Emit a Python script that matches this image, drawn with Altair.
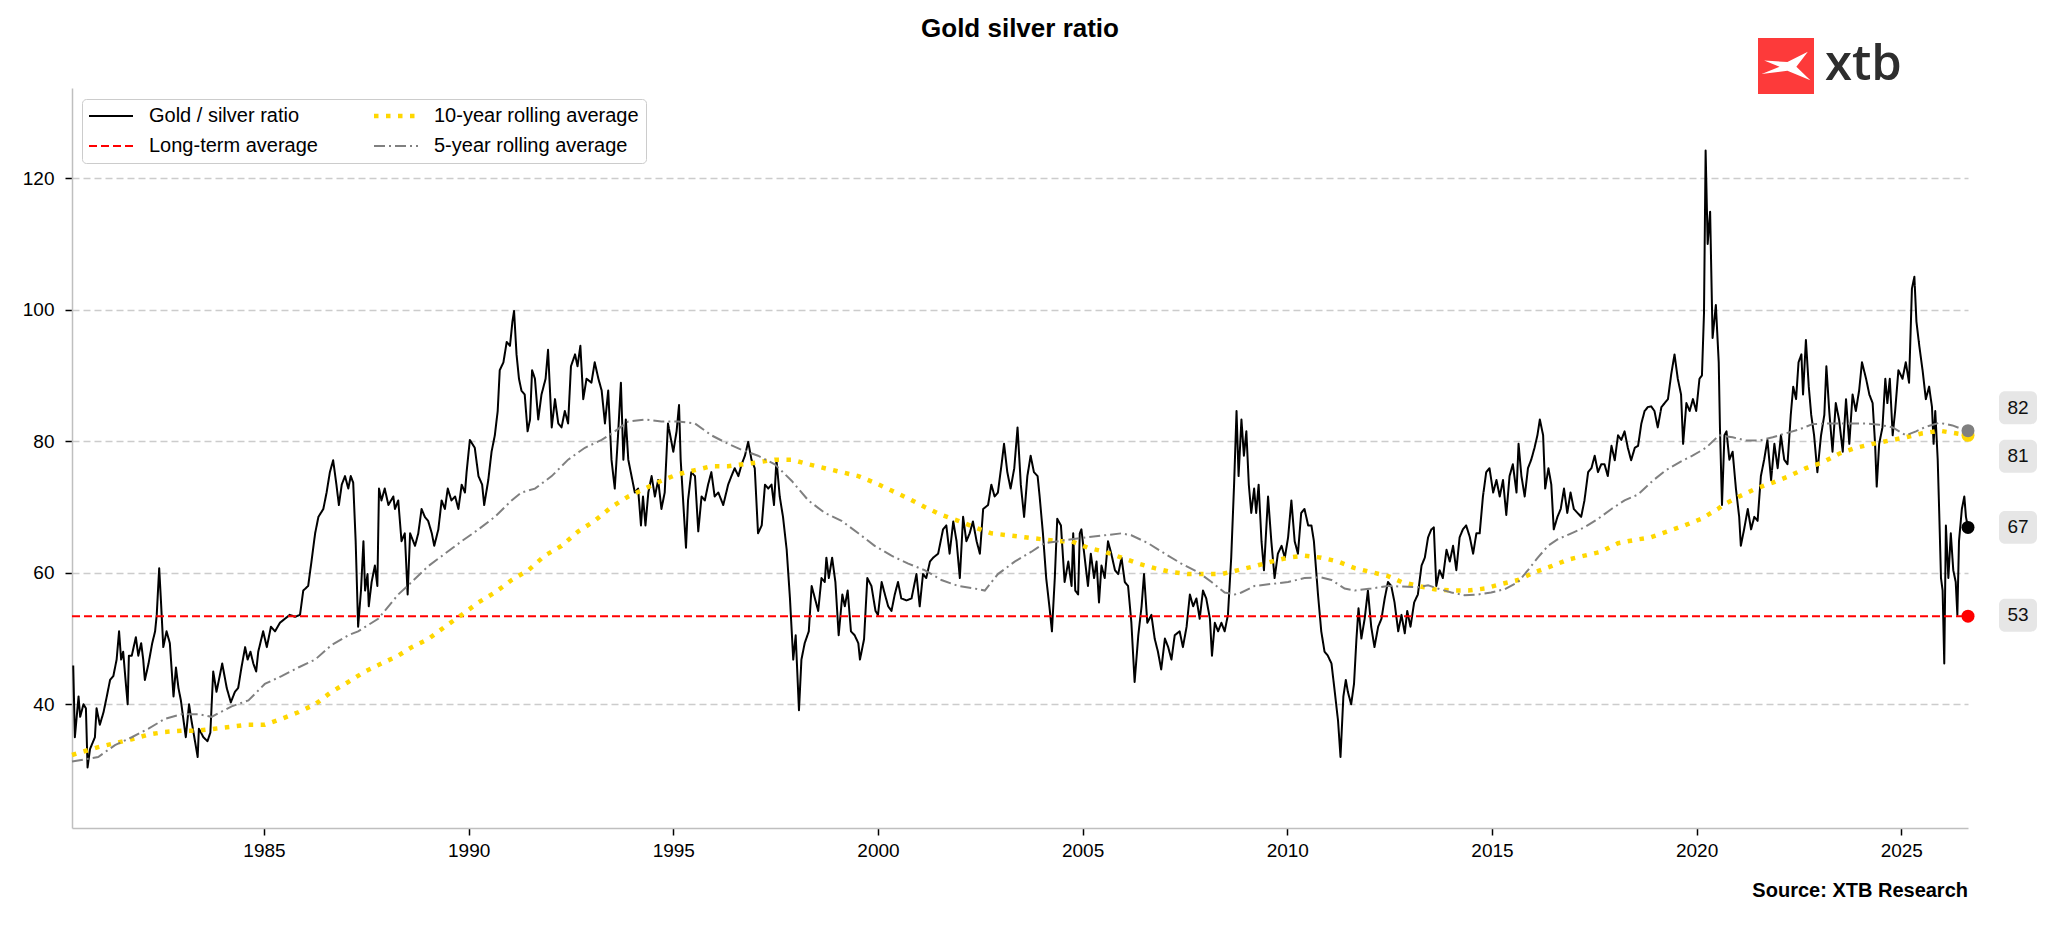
import altair as alt
import pandas as pd

TITLE = "Gold silver ratio"
SOURCE = "Source: XTB Research"
S_RATIO = "Gold / silver ratio"
S_MA10 = "10-year rolling average"
S_LT = "Long-term average"
S_MA5 = "5-year rolling average"

# Gold / silver ratio, (decimal year, ratio)
ratio_1980s = [
    (1980.34, 45.9), (1980.38, 35.0), (1980.47, 41.2), (1980.51, 38.1), (1980.59, 40.0),
    (1980.65, 39.4), (1980.69, 30.4), (1980.75, 33.2), (1980.83, 34.4), (1980.87, 35.0),
    (1980.91, 39.4), (1980.99, 36.9), (1981.08, 38.8), (1981.16, 41.2), (1981.24, 43.7),
    (1981.32, 44.3), (1981.40, 46.8), (1981.46, 51.1), (1981.51, 46.8), (1981.56, 48.0),
    (1981.61, 44.3), (1981.67, 40.0), (1981.70, 47.4), (1981.77, 47.4), (1981.87, 50.2),
    (1981.93, 47.4), (1982.00, 49.3), (1982.05, 46.8), (1982.09, 43.7), (1982.18, 46.2),
    (1982.27, 49.3), (1982.34, 51.1), (1982.38, 53.6), (1982.44, 60.7), (1982.48, 56.1),
    (1982.54, 48.7), (1982.62, 51.1), (1982.70, 49.3), (1982.79, 41.2), (1982.85, 45.6),
    (1982.91, 42.5), (1982.97, 40.6), (1983.09, 35.0), (1983.17, 40.0), (1983.23, 37.5),
    (1983.38, 32.0), (1983.41, 36.3), (1983.52, 35.0), (1983.62, 34.4), (1983.69, 35.7),
    (1983.76, 45.0), (1983.84, 41.9), (1983.98, 46.2), (1984.09, 42.5), (1984.19, 40.3),
    (1984.29, 41.9), (1984.37, 42.5), (1984.45, 45.6), (1984.54, 48.7), (1984.60, 46.8),
    (1984.67, 48.0), (1984.74, 46.2), (1984.81, 45.0), (1984.86, 48.0), (1984.98, 51.1),
    (1985.07, 48.7), (1985.17, 51.8), (1985.27, 51.1), (1985.39, 52.4), (1985.51, 53.0),
    (1985.63, 53.6), (1985.76, 53.3), (1985.88, 53.6), (1985.96, 57.3), (1986.08, 58.0),
    (1986.16, 61.7), (1986.25, 66.0), (1986.33, 68.5), (1986.45, 69.7), (1986.53, 72.2),
    (1986.61, 75.3), (1986.69, 77.1), (1986.77, 73.4), (1986.83, 70.3), (1986.90, 73.4),
    (1986.98, 74.7), (1987.06, 72.8), (1987.12, 74.7), (1987.18, 73.7), (1987.24, 64.8),
    (1987.30, 51.8), (1987.37, 57.3), (1987.43, 64.8), (1987.47, 57.3), (1987.53, 59.8),
    (1987.56, 54.9), (1987.63, 58.6), (1987.71, 61.1), (1987.77, 58.0), (1987.81, 72.8),
    (1987.87, 71.0), (1987.95, 72.8), (1988.04, 70.3), (1988.16, 71.6), (1988.20, 69.7),
    (1988.28, 71.0), (1988.36, 64.8), (1988.44, 66.0), (1988.51, 56.7), (1988.57, 66.0),
    (1988.69, 64.1), (1988.77, 66.0), (1988.85, 69.7), (1988.93, 68.5), (1989.01, 67.9),
    (1989.10, 66.0), (1989.16, 64.1), (1989.26, 66.6), (1989.34, 71.0), (1989.42, 69.7),
    (1989.49, 72.8), (1989.58, 71.0), (1989.67, 71.6), (1989.75, 69.7), (1989.83, 73.4),
    (1989.91, 72.2), (1989.95, 75.3),
]
ratio_1990s = [
    (1990.03, 80.2), (1990.15, 79.0), (1990.24, 74.7), (1990.33, 73.4), (1990.38, 70.3),
    (1990.48, 74.1), (1990.56, 78.4), (1990.64, 80.9), (1990.71, 84.6), (1990.76, 90.8),
    (1990.85, 92.0), (1990.93, 95.1), (1991.01, 94.5), (1991.07, 98.2), (1991.11, 99.8),
    (1991.17, 93.2), (1991.23, 89.5), (1991.29, 87.7), (1991.37, 87.1), (1991.44, 81.5),
    (1991.50, 83.3), (1991.55, 90.8), (1991.62, 89.5), (1991.70, 83.3), (1991.78, 87.1),
    (1991.88, 89.5), (1991.94, 93.9), (1992.03, 82.1), (1992.11, 86.4), (1992.19, 82.7),
    (1992.27, 82.1), (1992.35, 84.6), (1992.43, 82.7), (1992.50, 91.4), (1992.60, 93.2),
    (1992.66, 91.4), (1992.73, 94.5), (1992.80, 86.4), (1992.88, 89.5), (1993.00, 88.9),
    (1993.08, 92.0), (1993.17, 89.5), (1993.25, 87.7), (1993.33, 82.7), (1993.41, 87.7),
    (1993.49, 77.2), (1993.57, 72.8), (1993.65, 80.9), (1993.72, 88.9), (1993.78, 77.2),
    (1993.84, 83.3), (1993.90, 77.2), (1993.98, 74.7), (1994.06, 72.2), (1994.14, 72.8),
    (1994.21, 67.2), (1994.26, 71.6), (1994.32, 67.2), (1994.39, 72.2), (1994.47, 74.7),
    (1994.55, 71.6), (1994.63, 74.1), (1994.71, 69.7), (1994.79, 72.2), (1994.87, 82.7),
    (1995.00, 78.4), (1995.08, 81.5), (1995.14, 85.5), (1995.18, 77.2), (1995.24, 71.0),
    (1995.31, 63.8), (1995.36, 71.0), (1995.44, 75.3), (1995.53, 74.7), (1995.61, 66.3),
    (1995.69, 71.6), (1995.77, 71.0), (1995.85, 73.4), (1995.93, 75.3), (1996.01, 71.6),
    (1996.10, 72.2), (1996.22, 70.3), (1996.34, 73.4), (1996.42, 74.7), (1996.50, 75.9),
    (1996.59, 74.7), (1996.67, 76.5), (1996.75, 77.8), (1996.83, 79.9), (1996.91, 77.2),
    (1996.99, 75.9), (1997.07, 66.0), (1997.16, 67.2), (1997.24, 73.4), (1997.32, 72.8),
    (1997.40, 73.4), (1997.46, 70.3), (1997.52, 77.2), (1997.60, 71.6), (1997.68, 68.5),
    (1997.77, 63.5), (1997.85, 56.1), (1997.93, 46.8), (1997.99, 50.5), (1998.07, 39.1),
    (1998.13, 46.8), (1998.21, 49.3), (1998.31, 51.1), (1998.38, 58.0), (1998.46, 56.1),
    (1998.54, 54.2), (1998.62, 59.2), (1998.70, 58.6), (1998.74, 62.3), (1998.80, 59.2),
    (1998.88, 62.3), (1998.96, 58.6), (1999.04, 50.5), (1999.13, 56.7), (1999.19, 54.9),
    (1999.26, 57.3), (1999.34, 51.1), (1999.43, 50.5), (1999.52, 49.3), (1999.56, 46.8),
    (1999.66, 49.9), (1999.74, 59.2), (1999.84, 58.0), (1999.94, 54.2),
]
ratio_2000s = [
    (2000.00, 53.6), (2000.09, 58.6), (2000.17, 56.7), (2000.25, 54.9), (2000.33, 54.2),
    (2000.41, 56.7), (2000.49, 58.6), (2000.57, 56.1), (2000.70, 55.8), (2000.82, 56.1),
    (2000.94, 59.8), (2001.02, 54.9), (2001.10, 59.8), (2001.18, 59.2), (2001.27, 61.7),
    (2001.35, 62.3), (2001.47, 62.9), (2001.59, 66.6), (2001.67, 67.2), (2001.75, 62.9),
    (2001.84, 67.8), (2001.92, 64.8), (2002.00, 59.2), (2002.08, 68.5), (2002.16, 64.8),
    (2002.24, 66.0), (2002.32, 67.8), (2002.41, 64.8), (2002.49, 62.9), (2002.57, 69.7),
    (2002.69, 70.3), (2002.77, 73.4), (2002.85, 71.6), (2002.93, 72.2), (2003.02, 76.5),
    (2003.08, 79.6), (2003.16, 75.3), (2003.24, 72.8), (2003.33, 75.9), (2003.41, 82.1),
    (2003.49, 73.4), (2003.57, 68.5), (2003.65, 74.7), (2003.73, 77.8), (2003.81, 75.3),
    (2003.90, 74.7), (2003.95, 71.6), (2004.03, 66.0), (2004.11, 59.2), (2004.20, 54.2),
    (2004.25, 51.1), (2004.32, 59.2), (2004.38, 68.2), (2004.47, 67.2), (2004.56, 58.6),
    (2004.65, 61.7), (2004.73, 58.0), (2004.77, 66.0), (2004.82, 57.3), (2004.89, 56.7),
    (2004.93, 66.0), (2004.97, 66.6), (2005.05, 62.3), (2005.13, 58.0), (2005.20, 62.9),
    (2005.28, 59.2), (2005.34, 61.7), (2005.40, 55.5), (2005.46, 61.1), (2005.54, 59.2),
    (2005.62, 64.8), (2005.70, 62.9), (2005.79, 60.4), (2005.87, 59.8), (2005.95, 62.3),
    (2006.03, 58.6), (2006.11, 58.0), (2006.19, 52.5), (2006.27, 43.4), (2006.36, 50.5),
    (2006.44, 54.9), (2006.50, 59.8), (2006.58, 52.4), (2006.68, 53.6), (2006.76, 50.0),
    (2006.84, 48.0), (2006.92, 45.3), (2007.01, 50.0), (2007.09, 48.7), (2007.17, 46.8),
    (2007.25, 50.5), (2007.37, 51.1), (2007.45, 48.7), (2007.54, 51.8), (2007.62, 56.7),
    (2007.70, 54.9), (2007.78, 56.1), (2007.86, 53.0), (2007.94, 57.3), (2008.02, 56.1),
    (2008.11, 53.0), (2008.16, 47.4), (2008.23, 52.4), (2008.31, 51.1), (2008.39, 52.4),
    (2008.47, 51.1), (2008.55, 53.6), (2008.63, 62.3), (2008.70, 73.4), (2008.76, 84.6),
    (2008.81, 74.7), (2008.88, 83.3), (2008.94, 77.8), (2009.00, 81.5), (2009.06, 73.4),
    (2009.12, 69.1), (2009.19, 72.8), (2009.24, 69.1), (2009.30, 73.4), (2009.37, 64.8),
    (2009.43, 60.4), (2009.53, 71.6), (2009.61, 64.8), (2009.69, 59.2), (2009.77, 62.9),
    (2009.86, 64.1), (2009.94, 62.3),
]
ratio_2010s = [
    (2010.02, 65.4), (2010.10, 71.0), (2010.18, 64.8), (2010.26, 62.9), (2010.34, 69.1),
    (2010.42, 69.7), (2010.51, 67.2), (2010.59, 67.2), (2010.65, 64.8), (2010.75, 56.7),
    (2010.83, 51.1), (2010.91, 48.0), (2010.99, 47.4), (2011.08, 46.2), (2011.16, 41.9),
    (2011.24, 37.5), (2011.30, 32.0), (2011.37, 41.2), (2011.43, 43.7), (2011.48, 41.9),
    (2011.56, 40.0), (2011.63, 43.1), (2011.69, 50.0), (2011.74, 54.6), (2011.81, 50.0),
    (2011.89, 53.0), (2011.97, 57.3), (2012.05, 51.8), (2012.13, 48.7), (2012.22, 51.8),
    (2012.30, 53.0), (2012.38, 56.1), (2012.46, 58.6), (2012.54, 58.0), (2012.62, 55.5),
    (2012.71, 51.1), (2012.79, 53.6), (2012.87, 50.8), (2012.93, 54.2), (2013.01, 51.8),
    (2013.10, 55.5), (2013.19, 56.7), (2013.28, 61.1), (2013.36, 62.3), (2013.44, 65.4),
    (2013.52, 66.6), (2013.58, 66.9), (2013.64, 58.0), (2013.72, 60.4), (2013.80, 59.2),
    (2013.89, 63.5), (2013.97, 61.7), (2014.05, 64.1), (2014.13, 60.4), (2014.21, 65.4),
    (2014.29, 66.6), (2014.37, 67.2), (2014.46, 65.4), (2014.54, 62.9), (2014.62, 66.0),
    (2014.70, 66.0), (2014.78, 71.6), (2014.86, 75.3), (2014.94, 75.9), (2015.03, 72.2),
    (2015.11, 74.1), (2015.19, 71.6), (2015.27, 74.1), (2015.35, 68.8), (2015.43, 74.7),
    (2015.51, 76.5), (2015.60, 72.2), (2015.65, 79.6), (2015.72, 74.7), (2015.80, 71.6),
    (2015.88, 75.9), (2015.96, 77.2), (2016.04, 79.0), (2016.11, 80.9), (2016.17, 83.3),
    (2016.25, 80.9), (2016.30, 72.8), (2016.38, 75.9), (2016.45, 73.4), (2016.51, 66.6),
    (2016.60, 68.5), (2016.68, 69.7), (2016.76, 72.8), (2016.84, 69.1), (2016.92, 72.2),
    (2017.00, 69.7), (2017.09, 69.1), (2017.18, 68.5), (2017.26, 71.0), (2017.35, 75.3),
    (2017.43, 75.9), (2017.51, 77.8), (2017.59, 75.3), (2017.67, 76.5), (2017.75, 76.5),
    (2017.83, 74.7), (2017.92, 79.3), (2018.00, 77.1), (2018.08, 80.9), (2018.16, 80.2),
    (2018.24, 81.5), (2018.32, 79.0), (2018.40, 77.1), (2018.49, 79.0), (2018.57, 79.3),
    (2018.65, 82.7), (2018.73, 84.6), (2018.81, 85.2), (2018.89, 85.3), (2018.97, 84.6),
    (2019.05, 82.1), (2019.14, 85.2), (2019.22, 85.8), (2019.30, 86.4), (2019.38, 90.2),
    (2019.46, 93.2), (2019.54, 89.5), (2019.62, 87.1), (2019.67, 79.6), (2019.75, 85.8),
    (2019.83, 84.6), (2019.91, 86.4), (2019.99, 84.6),
]
ratio_2020s = [
    (2020.07, 89.5), (2020.13, 90.0), (2020.18, 99.4), (2020.22, 124.2), (2020.27, 110.0),
    (2020.33, 114.9), (2020.39, 95.7), (2020.47, 100.7), (2020.54, 92.0), (2020.57, 82.1),
    (2020.62, 70.3), (2020.68, 80.9), (2020.73, 81.5), (2020.80, 77.2), (2020.88, 78.4),
    (2020.96, 72.8), (2021.04, 68.5), (2021.08, 64.1), (2021.16, 66.6), (2021.25, 69.7),
    (2021.33, 66.6), (2021.41, 68.5), (2021.49, 67.9), (2021.57, 74.7), (2021.65, 77.2),
    (2021.73, 80.2), (2021.82, 74.1), (2021.90, 79.6), (2021.98, 75.9), (2022.06, 80.9),
    (2022.14, 77.2), (2022.22, 76.5), (2022.30, 84.0), (2022.36, 88.3), (2022.43, 86.4),
    (2022.49, 92.0), (2022.56, 93.2), (2022.60, 87.1), (2022.67, 95.4), (2022.74, 88.3),
    (2022.80, 84.0), (2022.87, 80.9), (2022.95, 75.3), (2023.04, 80.9), (2023.12, 84.0),
    (2023.17, 91.4), (2023.24, 84.6), (2023.32, 78.4), (2023.40, 85.8), (2023.48, 83.3),
    (2023.57, 78.4), (2023.65, 86.4), (2023.73, 79.6), (2023.81, 87.1), (2023.89, 84.6),
    (2023.97, 87.7), (2024.04, 92.0), (2024.14, 89.5), (2024.22, 87.1), (2024.30, 85.8),
    (2024.36, 79.6), (2024.40, 73.1), (2024.46, 79.6), (2024.54, 82.1), (2024.61, 89.5),
    (2024.66, 85.8), (2024.72, 89.5), (2024.79, 80.9), (2024.85, 84.6), (2024.93, 90.8),
    (2025.03, 89.5), (2025.11, 92.0), (2025.19, 88.9), (2025.26, 103.2), (2025.32, 105.0),
    (2025.37, 98.2), (2025.44, 94.5), (2025.52, 90.8), (2025.60, 86.4), (2025.68, 88.3),
    (2025.75, 85.2), (2025.79, 79.6), (2025.83, 84.6), (2025.89, 77.2), (2025.93, 68.5),
    (2025.97, 59.2), (2026.01, 57.3), (2026.05, 46.2), (2026.09, 67.2), (2026.15, 59.2),
    (2026.21, 66.0), (2026.27, 60.4), (2026.33, 58.6), (2026.37, 53.6), (2026.41, 64.8),
    (2026.48, 69.7), (2026.54, 71.6), (2026.58, 68.5), (2026.63, 66.9),
]

# 5-year rolling average
ma5_points = [
    (1980.31, 31.3), (1980.95, 32.0), (1981.36, 33.8), (1981.77, 35.0), (1982.18, 36.3),
    (1982.58, 37.8), (1982.99, 38.5), (1983.40, 38.5), (1983.72, 38.1), (1984.21, 39.7),
    (1984.62, 40.6), (1985.02, 43.1), (1985.43, 44.3), (1985.84, 45.6), (1986.25, 46.8),
    (1986.65, 49.0), (1987.06, 50.5), (1987.30, 51.1), (1987.79, 53.0), (1988.28, 56.7),
    (1988.61, 58.6), (1989.01, 61.0), (1989.42, 62.9), (1989.83, 64.8), (1990.24, 66.6),
    (1990.64, 68.5), (1991.05, 71.0), (1991.29, 72.2), (1991.62, 72.8), (1992.03, 74.7),
    (1992.43, 77.2), (1992.84, 79.0), (1993.25, 80.2), (1993.57, 81.5), (1993.90, 83.0),
    (1994.31, 83.3), (1994.71, 83.0), (1995.12, 83.0), (1995.53, 82.7), (1995.93, 80.9),
    (1996.34, 79.6), (1996.67, 78.7), (1997.07, 77.8), (1997.48, 76.5), (1997.89, 74.0),
    (1998.30, 71.0), (1998.70, 69.1), (1999.11, 67.9), (1999.52, 66.0), (1999.92, 64.1),
    (2000.33, 62.6), (2000.74, 61.4), (2001.14, 60.4), (2001.55, 58.9), (2001.96, 58.0),
    (2002.37, 57.6), (2002.61, 57.3), (2002.93, 59.8), (2003.34, 61.7), (2003.75, 63.2),
    (2004.07, 64.5), (2004.73, 65.1), (2005.13, 65.4), (2005.54, 65.7), (2005.95, 66.0),
    (2006.19, 65.7), (2006.60, 64.5), (2007.01, 62.9), (2007.41, 61.4), (2007.82, 60.1),
    (2008.15, 58.6), (2008.47, 57.0), (2008.72, 56.7), (2008.88, 57.0), (2009.20, 58.0),
    (2009.61, 58.3), (2010.02, 58.6), (2010.42, 59.2), (2010.83, 59.3), (2011.08, 58.9),
    (2011.40, 57.6), (2011.65, 57.3), (2012.05, 57.6), (2012.46, 58.0), (2013.19, 57.8),
    (2013.44, 58.1), (2013.68, 57.6), (2014.01, 57.0), (2014.33, 56.6), (2014.66, 56.7),
    (2014.98, 57.0), (2015.31, 57.5), (2015.64, 58.6), (2015.88, 60.4), (2016.12, 62.3),
    (2016.37, 64.1), (2016.61, 65.1), (2016.94, 66.0), (2017.26, 66.9), (2017.59, 68.2),
    (2017.92, 69.7), (2018.24, 71.0), (2018.57, 71.9), (2018.93, 74.0), (2019.25, 75.6),
    (2019.58, 76.8), (2019.90, 77.8), (2020.23, 79.0), (2020.55, 80.9), (2020.88, 80.6),
    (2021.20, 80.1), (2021.53, 80.1), (2021.86, 80.6), (2022.18, 81.2), (2022.51, 81.8),
    (2022.83, 82.6), (2023.16, 82.7), (2023.48, 82.7), (2023.81, 82.7), (2024.14, 82.7),
    (2024.46, 82.5), (2024.79, 82.1), (2025.11, 80.9), (2025.36, 81.5), (2025.60, 82.2),
    (2025.93, 82.8), (2026.25, 82.4), (2026.50, 81.8), (2026.63, 81.6),
]

# 10-year rolling average
ma10_points = [
    (1980.31, 32.3), (1980.95, 33.5), (1981.36, 34.1), (1981.77, 34.7), (1982.18, 35.4),
    (1982.58, 35.8), (1982.99, 36.0), (1983.40, 36.0), (1983.80, 36.3), (1984.21, 36.6),
    (1984.62, 36.9), (1985.02, 36.9), (1985.43, 37.8), (1985.84, 38.8), (1986.25, 40.0),
    (1986.65, 41.9), (1987.06, 43.4), (1987.47, 45.0), (1987.87, 46.2), (1988.28, 47.4),
    (1988.61, 48.7), (1989.01, 49.9), (1989.42, 51.8), (1989.83, 53.6), (1990.24, 55.5),
    (1990.64, 57.0), (1991.05, 58.9), (1991.46, 60.4), (1991.86, 62.6), (1992.27, 64.1),
    (1992.68, 66.3), (1993.08, 67.9), (1993.49, 70.0), (1993.90, 71.6), (1994.31, 72.8),
    (1994.71, 74.0), (1995.12, 75.0), (1995.53, 75.6), (1995.93, 76.2), (1996.34, 76.2),
    (1997.07, 76.8), (1997.48, 77.2), (1997.89, 77.2), (1998.30, 76.5), (1998.70, 75.9),
    (1999.11, 75.3), (1999.52, 74.7), (1999.92, 73.7), (2000.33, 72.5), (2000.74, 71.3),
    (2001.14, 70.0), (2001.55, 68.8), (2001.96, 67.9), (2002.37, 66.9), (2002.77, 66.0),
    (2003.18, 65.7), (2003.59, 65.4), (2004.00, 65.1), (2004.40, 64.8), (2004.73, 64.8),
    (2005.13, 63.8), (2005.54, 63.2), (2005.95, 62.3), (2006.36, 61.4), (2006.76, 60.7),
    (2007.17, 60.1), (2007.58, 59.8), (2007.98, 59.8), (2008.39, 59.8), (2008.80, 60.4),
    (2009.20, 61.0), (2009.61, 61.7), (2010.02, 62.3), (2010.42, 62.6), (2010.83, 62.3),
    (2011.24, 61.7), (2011.65, 60.7), (2012.05, 60.1), (2012.46, 59.5), (2012.79, 58.6),
    (2013.19, 58.0), (2013.60, 57.5), (2014.01, 57.3), (2014.42, 57.3), (2014.82, 57.6),
    (2015.23, 58.3), (2015.64, 58.9), (2016.04, 60.1), (2016.45, 61.0), (2016.86, 62.0),
    (2017.26, 62.6), (2017.67, 63.2), (2018.08, 64.5), (2018.49, 65.0), (2018.89, 65.4),
    (2019.30, 66.3), (2019.71, 67.2), (2020.11, 68.2), (2020.52, 69.7), (2020.64, 70.3),
    (2021.04, 71.6), (2021.45, 72.8), (2021.86, 73.7), (2022.26, 74.7), (2022.67, 75.9),
    (2023.08, 76.8), (2023.48, 78.1), (2023.89, 79.0), (2024.30, 79.6), (2024.71, 80.1),
    (2025.11, 80.6), (2025.52, 81.2), (2025.93, 81.6), (2026.33, 81.2), (2026.63, 80.9),
]

long_term_average = 53.4
x_first, x_last = 1980.31, 2026.63
x_ticks = [1985, 1990, 1995, 2000, 2005, 2010, 2015, 2020, 2025]
y_ticks = [40, 60, 80, 100, 120]
y_limits = [21.2, 133.7]

series_domain = [S_RATIO, S_LT, S_MA10, S_MA5]
series_colors = ["#000000", "#FF0000", "#FFD700", "#808080"]
series_dash = [[1, 0], [8, 4], [4.5, 7.5], [11, 4, 2, 4]]

# ---------------------------------------------------------------- layout
W, H = 1896, 740
FONT = "Liberation Sans"
PX_PER_UNIT = H / (y_limits[1] - y_limits[0])

ratio_df = pd.DataFrame(ratio_1980s + ratio_1990s + ratio_2000s + ratio_2010s + ratio_2020s,
                        columns=["year", "value"])
ratio_df["series"] = S_RATIO
ma5_df = pd.DataFrame(ma5_points, columns=["year", "value"])
ma5_df["series"] = S_MA5
ma10_df = pd.DataFrame(ma10_points, columns=["year", "value"])
ma10_df["series"] = S_MA10
lt_df = pd.DataFrame({"year": [x_first, x_last], "value": [long_term_average] * 2})
lt_df["series"] = S_LT

end_df = pd.DataFrame({
    "year": [x_last] * 4,
    "value": [long_term_average, ratio_df["value"].iloc[-1], ma10_df["value"].iloc[-1], ma5_df["value"].iloc[-1]],
    "color": ["#FF0000", "#000000", "#FFD700", "#808080"],
    "nudge": [-1, 0, 21, -23],
})

x_enc = alt.X("year:Q", scale=alt.Scale(domain=[x_first, x_last], nice=False, zero=False),
              axis=alt.Axis(values=x_ticks, format="d", title=None, grid=False))
y_axis = alt.Axis(values=y_ticks, title=None, grid=True, gridDash=[7, 4],
                  gridColor="#cccccc", gridWidth=1.5, labelPadding=11)
y_scale = alt.Scale(domain=y_limits, nice=False, zero=False)
y_enc = alt.Y("value:Q", scale=y_scale, axis=y_axis)

leg = alt.Legend(title=None, orient="none", legendX=10, legendY=11, columns=2)


def series_enc():
    return dict(
        color=alt.Color("series:N", scale=alt.Scale(domain=series_domain, range=series_colors), legend=leg),
        strokeDash=alt.StrokeDash("series:N", scale=alt.Scale(domain=series_domain, range=series_dash), legend=leg),
    )


ratio_line = alt.Chart(ratio_df).mark_line(strokeWidth=2, strokeJoin="round").encode(x=x_enc, y=y_enc, **series_enc())
lt_line = alt.Chart(lt_df).mark_line(strokeWidth=2).encode(x=x_enc, y=y_enc, **series_enc())
ma10_line = alt.Chart(ma10_df).mark_line(strokeWidth=4.5).encode(x=x_enc, y=y_enc, **series_enc())
ma5_line = alt.Chart(ma5_df).mark_line(strokeWidth=2).encode(x=x_enc, y=y_enc, **series_enc())

end_dots = alt.Chart(end_df).mark_point(filled=True, size=169, opacity=1, strokeWidth=0).encode(
    x=x_enc, y=y_enc, color=alt.Color("color:N", scale=None)
)

label_base = alt.Chart(end_df).transform_calculate(
    pos=f"datum.value - datum.nudge / {PX_PER_UNIT}",
    lo=f"datum.value - datum.nudge / {PX_PER_UNIT} - 2.5",
    hi=f"datum.value - datum.nudge / {PX_PER_UNIT} + 2.5",
    label="format(datum.value, '.0f')",
)
label_boxes = label_base.mark_rect(cornerRadius=6, color="#e6e6e6").encode(
    x=alt.value(W + 31), x2=alt.value(W + 69),
    y=alt.Y("lo:Q", scale=y_scale, axis=y_axis), y2="hi:Q",
)
label_text = label_base.mark_text(fontSize=19, font=FONT, color="#111111", align="center",
                                  baseline="middle").encode(
    x=alt.value(W + 50), y=alt.Y("pos:Q", scale=y_scale, axis=y_axis), text="label:N"
)

txt_df = pd.DataFrame({"title": [TITLE], "source": [SOURCE], "logo": ["xtb"]})
title_mark = alt.Chart(txt_df).mark_text(fontSize=26, fontWeight="bold", font=FONT, color="#000000",
                                         align="center", baseline="alphabetic").encode(
    x=alt.value(W / 2), y=alt.value(-51), text="title:N")
source_mark = alt.Chart(txt_df).mark_text(fontSize=20, fontWeight="bold", font=FONT, color="#000000",
                                          align="right", baseline="alphabetic").encode(
    x=alt.value(W), y=alt.value(809), text="source:N")
logo_square = alt.Chart(txt_df).mark_point(shape="square", filled=True, size=3136, color="#fd3a3a",
                                           opacity=1, strokeWidth=0).encode(
    x=alt.value(1714), y=alt.value(-22))
logo_x = alt.Chart(txt_df).mark_point(
    shape="M-0.78,-0.2L0.05,-0.14L0.78,-0.51L0.37,0.03L0.87,0.51L0.05,0.17L-0.87,0.29L-0.23,0.03Z",
    filled=True, size=3136, color="#ffffff", opacity=1, strokeWidth=0).encode(
    x=alt.value(1714), y=alt.value(-22))
logo_text = alt.Chart(txt_df).mark_text(fontSize=49, fontWeight=600, font="Open Sans", color="#2e2e2e",
                                        align="left", baseline="alphabetic").encode(
    x=alt.value(1753), y=alt.value(-8), text="logo:N")

chart = alt.layer(
    ratio_line, lt_line, ma10_line, ma5_line, end_dots, label_boxes, label_text,
    title_mark, source_mark, logo_square, logo_x, logo_text,
).properties(
    width=W, height=H,
    autosize=alt.AutoSizeParams(type="none"),
    padding={"left": 64, "top": 80, "right": 72, "bottom": 89},
    background="#ffffff",
).configure(font=FONT).configure_view(stroke=None).configure_axis(
    labelFont=FONT, labelFontSize=19, labelColor="#000000",
    tickColor="#000000", tickSize=7, tickWidth=1.5,
    domainColor="#bfbfbf", domainWidth=1.5,
).configure_axisX(labelPadding=6).configure_legend(
    labelFont=FONT, labelFontSize=20, labelColor="#000000", labelLimit=500,
    symbolType="M-1,0H3.4", symbolSize=400,
    symbolStrokeWidth={"expr": f"datum.value === '{S_MA10}' ? 4.5 : 2"},
    labelOffset=40, padding=7, rowPadding=10, columnPadding=47, strokeColor="#cccccc",
    fillColor="#ffffff", cornerRadius=4,
)

chart.save("out.html", embed_options={"renderer": "svg", "actions": False})
